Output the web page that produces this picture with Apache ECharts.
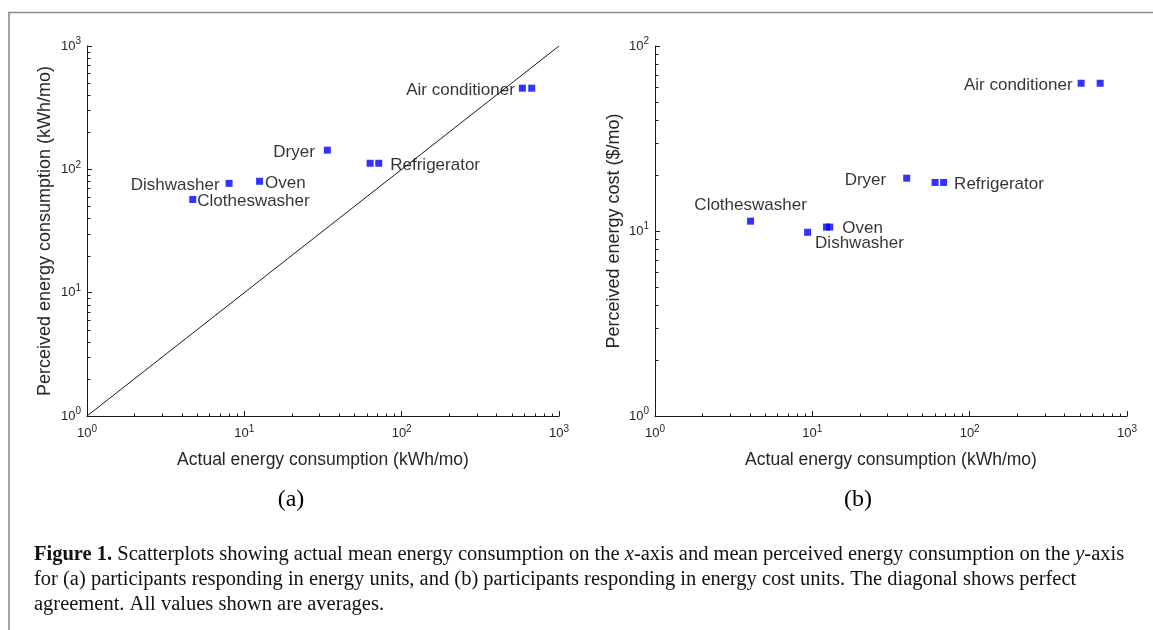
<!DOCTYPE html>
<html><head><meta charset="utf-8">
<script src="https://cdn.jsdelivr.net/npm/echarts@6/dist/echarts.min.js"></script>
<style>html,body{margin:0;padding:0;background:#fff}#c{width:1153px;height:630px}</style>
</head><body><div id="c"></div>
<script>
// ---- Data (a): responses in energy units ----
const energyNames = ['Air conditioner','Air conditioner','Dryer','Refrigerator','Refrigerator','Dishwasher','Oven','Clotheswasher'];
const energyActual = [585, 671, 33.7, 63, 71.5, 8.0, 12.5, 4.7];
const energyPerceived = [455, 455, 143, 112, 112, 77, 80, 57];
const energyLabelled = [true, false, true, false, true, true, true, true];
// ---- Data (b): responses in cost units ----
const costNames = ['Air conditioner','Air conditioner','Dryer','Refrigerator','Refrigerator','Clotheswasher','Dishwasher','Oven','Oven'];
const costActual = [511, 675, 39.8, 60.3, 68.3, 4.05, 9.33, 12.3, 12.9];
const costPerceived = [62.9, 62.9, 19.3, 18.3, 18.3, 11.3, 9.84, 10.5, 10.5];
const costLabelled = [true, false, true, false, true, true, true, false, true];
// ---- Axes ----
const diagonal = [1, 1000];
const minorTicks3 = [2,3,4,5,6,7,8,9,20,30,40,50,60,70,80,90,200,300,400,500,600,700,800,900];
const minorTicks2 = [2,3,4,5,6,7,8,9,20,30,40,50,60,70,80,90];
const xTitle = 'Actual energy consumption (kWh/mo)';
const yTitleA = 'Perceived energy consumption (kWh/mo)';
const yTitleB = 'Perceived energy cost ($/mo)';

const SANS = 'Liberation Sans, Arial, sans-serif';
const SERIF = 'Liberation Serif, Times New Roman, serif';
const AX = '#1a1a1a';
const TXT = '#262626';

const placeA = {
  'Air conditioner': {position: 'left', distance: 4, offset: [0, 2]},
  'Dryer': {position: 'left', distance: 9, offset: [0, 2]},
  'Refrigerator': {position: 'right', distance: 8, offset: [0, 2]},
  'Dishwasher': {position: 'left', distance: 6, offset: [0, 2]},
  'Oven': {position: 'right', distance: 2, offset: [0, 2]},
  'Clotheswasher': {position: 'right', distance: 1, offset: [0, 2]}
};
const placeB = {
  'Air conditioner': {position: 'left', distance: 5, offset: [0, 2]},
  'Dryer': {position: 'left', distance: 17, offset: [0, 2]},
  'Refrigerator': {position: 'right', distance: 7, offset: [0, 2]},
  'Clotheswasher': {position: 'top', distance: 6, offset: [0, 2]},
  'Oven': {position: 'right', distance: 9, offset: [0, 1]},
  'Dishwasher': {position: 'right', distance: 4, offset: [0, 11]}
};

function points(names, xs, ys, labelled, place) {
  return names.map((n, i) => ({
    name: n,
    value: [xs[i], ys[i]],
    label: Object.assign({show: labelled[i], formatter: n}, place[n])
  }));
}

const tickFmt = v => '{b|10}{s|' + Math.round(Math.log10(v)) + '}';
const tickRich = {
  b: {fontSize: 13, fontFamily: SANS, color: TXT},
  s: {fontSize: 10, fontFamily: SANS, color: TXT, padding: [0, 0, 9, 0]}
};

function logAxis(gi, max, isX, name, gap) {
  return {
    type: 'log', logBase: 10, gridIndex: gi, min: 1, max: max,
    interval: 1,
    name: name, nameLocation: 'middle', nameGap: gap,
    nameTextStyle: {fontSize: isX ? 17.5 : 18, fontFamily: SANS, color: TXT},
    axisLine: {show: true, lineStyle: {color: AX, width: 1}},
    axisTick: {show: true, inside: true, length: 5, lineStyle: {color: AX}},
    minorTick: {show: false},
    splitLine: {show: false},
    axisLabel: {formatter: tickFmt, rich: tickRich, margin: isX ? 8 : 6, hideOverlap: false, showMinLabel: true, showMaxLabel: true}
  };
}

function minorSeries(xi, yi, values, isX) {
  return {
    type: 'custom', xAxisIndex: xi, yAxisIndex: yi, silent: true, clip: false, z: 3,
    data: values.map(v => isX ? [v, 1] : [1, v]),
    renderItem: (params, api) => {
      const p = api.coord([api.value(0), api.value(1)]);
      const x = Math.round(p[0]) + 0.5, y = Math.round(p[1]) + 0.5;
      return {
        type: 'line',
        shape: isX ? {x1: x, y1: y, x2: x, y2: y - 3} : {x1: x, y1: y, x2: x + 3, y2: y},
        style: {stroke: AX, lineWidth: 1}
      };
    }
  };
}

const scatterStyle = {
  type: 'scatter', symbol: 'rect', symbolSize: 7,
  itemStyle: {color: '#0000ff'},
  label: {fontSize: 17, fontFamily: SANS, color: '#000'},
  z: 5
};

const capFont = 20.5;
const option = {
  animation: false,
  backgroundColor: '#fff',
  grid: [
    {left: 87, top: 46, width: 472, height: 370},
    {left: 655, top: 46, width: 472, height: 370}
  ],
  xAxis: [
    logAxis(0, 1000, true, xTitle, 35),
    logAxis(1, 1000, true, xTitle, 35)
  ],
  yAxis: [
    logAxis(0, 1000, false, yTitleA, 33),
    logAxis(1, 100, false, yTitleB, 32)
  ],
  series: [
    {type: 'line', xAxisIndex: 0, yAxisIndex: 0, data: [[diagonal[0], diagonal[0]], [diagonal[1], diagonal[1]]],
     symbol: 'none', lineStyle: {color: '#1a1a1a', width: 1}, z: 2, silent: true},
    Object.assign({}, scatterStyle, {xAxisIndex: 0, yAxisIndex: 0, data: points(energyNames, energyActual, energyPerceived, energyLabelled, placeA)}),
    Object.assign({}, scatterStyle, {xAxisIndex: 1, yAxisIndex: 1, data: points(costNames, costActual, costPerceived, costLabelled, placeB)}),
    minorSeries(0, 0, minorTicks3, true),
    minorSeries(0, 0, minorTicks3, false),
    minorSeries(1, 1, minorTicks3, true),
    minorSeries(1, 1, minorTicks2, false)
  ],
  graphic: [
    {type: 'line', shape: {x1: 8, y1: 12.5, x2: 1153, y2: 12.5}, style: {stroke: '#8c8c8c', lineWidth: 1.6}},
    {type: 'line', shape: {x1: 9, y1: 12, x2: 9, y2: 630}, style: {stroke: '#8c8c8c', lineWidth: 1.6}},
    {type: 'text', x: 291, y: 500, style: {text: '(a)', font: '24px ' + SERIF, fill: '#000', align: 'center', verticalAlign: 'middle'}},
    {type: 'text', x: 858, y: 500, style: {text: '(b)', font: '24px ' + SERIF, fill: '#000', align: 'center', verticalAlign: 'middle'}},
    {type: 'text', x: 34, y: 555, style: {
      text: '{b|Figure 1.} Scatterplots showing actual mean energy consumption on the {i|x}-axis and mean perceived energy consumption on the {i|y}-axis',
      fontSize: capFont, fontFamily: SERIF, fill: '#111', verticalAlign: 'middle',
      rich: {b: {fontWeight: 'bold', fontSize: capFont, fontFamily: SERIF}, i: {fontStyle: 'italic', fontSize: capFont, fontFamily: SERIF}}
    }},
    {type: 'text', x: 34, y: 580, style: {
      text: 'for (a) participants responding in energy units, and (b) participants responding in energy cost units. The diagonal shows perfect',
      fontSize: capFont, fontFamily: SERIF, fill: '#111', verticalAlign: 'middle'
    }},
    {type: 'text', x: 34, y: 605, style: {
      text: 'agreement. All values shown are averages.',
      fontSize: capFont, fontFamily: SERIF, fill: '#111', verticalAlign: 'middle'
    }}
  ]
};
const chart = echarts.init(document.getElementById('c'));
chart.setOption(option);
</script></body></html>
